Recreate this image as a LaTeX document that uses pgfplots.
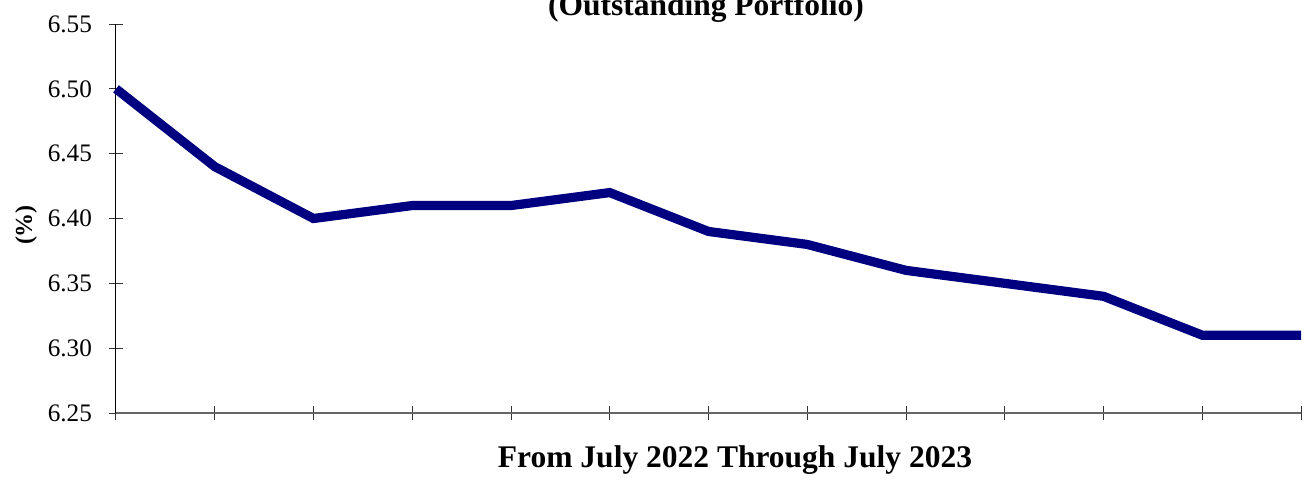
\documentclass[border=0pt]{standalone}
\usepackage{fontspec}
\setmainfont{Liberation Serif}
\usepackage{pgfplots}
\pgfplotsset{compat=1.18}
\definecolor{navyline}{RGB}{0,0,128}

\begin{document}
\begin{tikzpicture}
    % 1 px of the reference = 0.5pt; y measured from the bottom
    \useasboundingbox (0pt,0pt) rectangle (655.5pt,242pt);
    \begin{axis}[
        at={(58pt,35.5pt)}, anchor=south west,
        scale only axis,
        width=592.5pt, height=194.5pt,
        xmin=0, xmax=12,
        ymin=6.25, ymax=6.55,
        xtick={0,1,...,12},
        xticklabels={},
        ytick={6.25,6.30,...,6.56},
        axis x line=bottom, axis y line=left,
        axis line style={-},
        x axis line style={draw=black!60, line width=0.8pt},
        y axis line style={draw=black, line width=0.5pt},
        tick align=center,
        major tick length=7pt,
        tick style={black!80, line width=0.5pt},
        yticklabel style={font=\fontsize{12.6}{14}\selectfont, xshift=-5pt},
        /pgf/number format/.cd, fixed, fixed zerofill, precision=2, assume math mode=true,
        /pgfplots/.cd,
        clip=false,
        ]
        \addplot[navyline, line width=4.6pt, line join=miter] coordinates {
            (0,6.50) (1,6.44) (2,6.40) (3,6.41) (4,6.41) (5,6.42) (6,6.39)
            (7,6.38) (8,6.36) (9,6.35) (10,6.34) (11,6.31) (12,6.31)
        };
    \end{axis}
    \begin{scope}[x=0.5pt,y=0.5pt]
    \node[anchor=base, font=\bfseries\fontsize{15.75}{18}\selectfont, inner sep=0pt] at (706,469) {(Outstanding Portfolio)};
    \node[anchor=base, font=\bfseries\fontsize{15.75}{18}\selectfont, inner sep=0pt] at (735,17) {From July 2022 Through July 2023};
    \node[rotate=90, font=\bfseries\fontsize{12}{14}\selectfont, inner sep=0pt] at (26,259) {(\%)};
    \end{scope}
\end{tikzpicture}
\end{document}
